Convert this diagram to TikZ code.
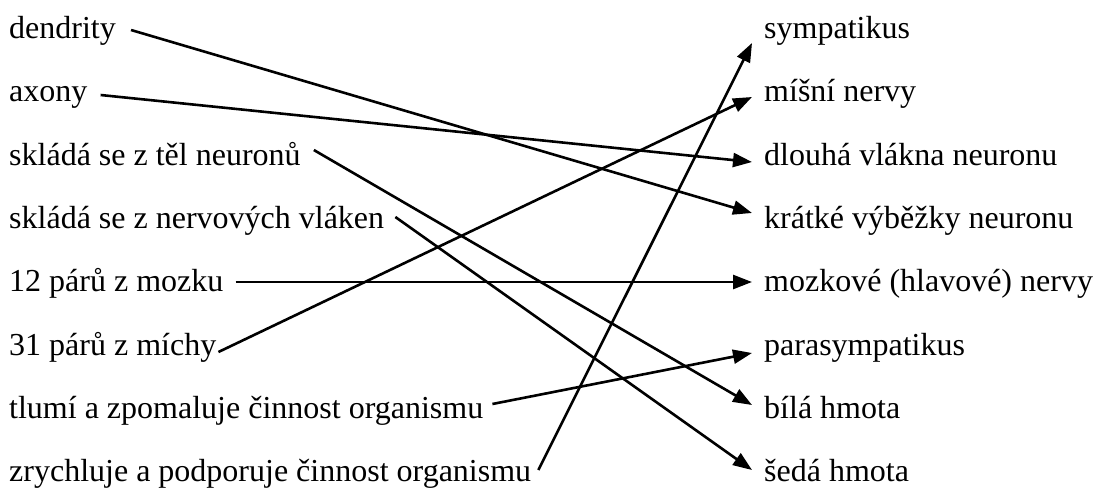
\documentclass[tikz,border=0pt]{standalone}
\usepackage{fontspec}
\setmainfont{Liberation Serif}
\usepackage{tikz}
\usetikzlibrary{arrows.meta}
\tikzstyle{arrow} = [-{Triangle[length=19pt,width=14pt]},line width=2.6pt]
\tikzstyle{term} = [inner sep=0pt,font=\fontsize{32}{36}\selectfont]
\tikzstyle{left term} = [term,anchor=base west]
\tikzstyle{right term} = [term,anchor=base west]

\begin{document}
\begin{tikzpicture}[x=1pt,y=-1pt]
      \useasboundingbox(0,0)rectangle(1098,490);
      % left column
      \node[left term](dendrity)at(9,38){dendrity};
      \node[left term](axony)at(9,101){axony};
      \node[left term](tela)at(9,165){skládá se z těl neuronů};
      \node[left term](vlakna)at(9,228){skládá se z nervových vláken};
      \node[left term](mozek)at(9,291){12 párů z mozku};
      \node[left term](micha)at(9,355){31 párů z míchy};
      \node[left term](tlumi)at(9,418){tlumí a zpomaluje činnost organismu};
      \node[left term](zrychluje)at(9,481){zrychluje a podporuje činnost organismu};
      % right column
      \node[right term](sympatikus)at(764,38){sympatikus};
      \node[right term](misni)at(764,101){míšní nervy};
      \node[right term](dlouha)at(764,165){dlouhá vlákna neuronu};
      \node[right term](kratke)at(764,228){krátké výběžky neuronu};
      \node[right term](mozkove)at(764,291){mozkové (hlavové) nervy};
      \node[right term](para)at(764,355){parasympatikus};
      \node[right term](bila)at(764,418){bílá hmota};
      \node[right term](seda)at(764,481){šedá hmota};
      % pairs
      \draw[arrow]([shift={(15,-8)}]dendrity.base east)--([shift={(-12,-15)}]kratke.base west);
      \draw[arrow]([shift={(13,-6)}]axony.base east)--([shift={(-12,-3)}]dlouha.base west);
      \draw[arrow]([shift={(13,-15)}]tela.base east)--([shift={(-12,-13)}]bila.base west);
      \draw[arrow]([shift={(11,-11)}]vlakna.base east)--([shift={(-12,-11)}]seda.base west);
      \draw[arrow]([shift={(12,-9)}]mozek.base east)--([shift={(-12,-9)}]mozkove.base west);
      \draw[arrow]([shift={(2,-3)}]micha.base east)--([shift={(-12,-4)}]misni.base west);
      \draw[arrow]([shift={(9,-14)}]tlumi.base east)--([shift={(-12,-2)}]para.base west);
      \draw[arrow]([shift={(7,-11)}]zrychluje.base east)--([shift={(-12,5)}]sympatikus.base west);
    \end{tikzpicture}
\end{document}
